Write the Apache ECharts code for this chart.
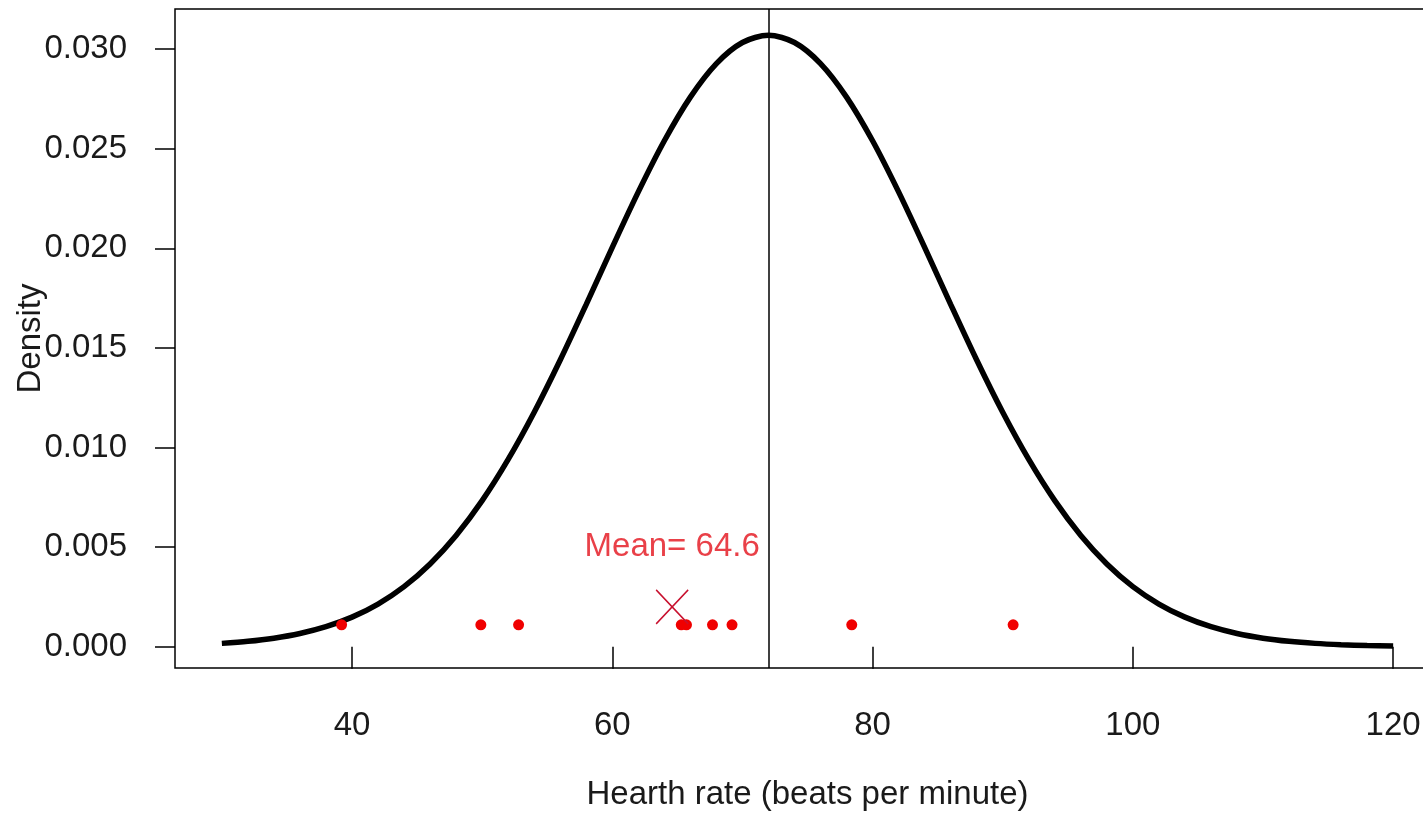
<!DOCTYPE html>
<html>
<head>
<meta charset="utf-8">
<style>html,body{margin:0;padding:0;background:#fff;overflow:hidden}#c{width:1423px;height:834px}</style>
<script src="https://cdn.jsdelivr.net/npm/echarts@6/dist/echarts.min.js"></script>
</head>
<body>
<div id="c"></div>
<script>
// Density curve (x in bpm, y density)
const curveX = [30,32,34,36,38,40,42,44,46,48,50,52,54,56,58,60,62,64,66,68,70,72,74,76,78,80,82,84,86,88,90,92,94,96,98,100,102,104,106,108,110,112,114,116,118,120];
const curveY = [0.000166,0.000270,0.000428,0.000663,0.001004,0.001483,0.002142,0.003018,0.004153,0.005584,0.007330,0.009398,0.011766,0.014389,0.017184,0.020043,0.022828,0.025395,0.027588,0.029269,0.030327,0.030688,0.030327,0.029269,0.027588,0.025395,0.022828,0.020043,0.017184,0.014389,0.011766,0.009398,0.007330,0.005584,0.004153,0.003018,0.002142,0.001483,0.001004,0.000663,0.000428,0.000270,0.000166,0.000100,0.000059,0.000034];
// Observed heart rates (red dots)
const obsX = [39.2,49.9,52.8,65.3,65.7,67.7,69.2,78.4,90.8];
const obsY = [0.0011,0.0011,0.0011,0.0011,0.0011,0.0011,0.0011,0.0011,0.0011];
// Sample mean marker
const meanX = [64.6];
const meanY = [0.002];
const meanLabelY = [0.005];
const meanLabel = 'Mean= 64.6';
// Vertical reference line (distribution mean)
const refLineX = 72;
// Tick labels
const xTicks = [40,60,80,100,120];
const yTicks = [0,0.005,0.010,0.015,0.020,0.025,0.030];
const xTitle = 'Hearth rate (beats per minute)';
const yTitle = 'Density';

const FONT = '"Liberation Sans", Arial, sans-serif';
const FS = 33;
const chart = echarts.init(document.getElementById('c'), null, {renderer:'canvas'});
chart.setOption({
  animation:false,
  backgroundColor:'#ffffff',
  grid:{left:175, top:9, right:-17, bottom:166, show:true, borderColor:'#000', borderWidth:1.5, containLabel:false, outerBoundsMode:'none'},
  xAxis:{
    type:'value', min:26.4, max:123.6,
    splitLine:{show:false},
    axisLine:{show:false},
    axisTick:{show:true, inside:false, length:22, lineStyle:{color:'#000', width:1.5}, customValues:xTicks},
    axisLabel:{show:true, margin:41, fontSize:FS, fontFamily:FONT, color:'#1a1a1a', customValues:xTicks, formatter:v=>String(v)},
    name:xTitle, nameLocation:'middle', nameGap:110, nameMoveOverlap:false,
    nameTextStyle:{fontSize:FS, fontFamily:FONT, color:'#1a1a1a'}
  },
  yAxis:{
    type:'value', min:-0.00107, max:0.03201,
    splitLine:{show:false},
    axisLine:{show:false},
    axisTick:{show:true, inside:false, length:20, lineStyle:{color:'#000', width:1.5}, customValues:yTicks},
    axisLabel:{show:true, margin:48, fontSize:FS, fontFamily:FONT, color:'#1a1a1a', customValues:yTicks, formatter:v=>v.toFixed(3)},
    name:yTitle, nameLocation:'middle', nameRotate:90, nameGap:128, nameMoveOverlap:false,
    nameTextStyle:{fontSize:FS, fontFamily:FONT, color:'#1a1a1a'}
  },
  series:[
    {
      type:'line', data:curveX.map((x,i)=>[x,curveY[i]]),
      showSymbol:false, smooth:0.3, lineStyle:{color:'#000', width:5.5}, z:3,
      markLine:{silent:true, symbol:'none', label:{show:false},
        lineStyle:{color:'#000', width:1.5, type:'solid'}, data:[{xAxis:refLineX}]}
    },
    {
      type:'scatter', data:obsX.map((x,i)=>[x,obsY[i]]),
      symbol:'circle', symbolSize:11, itemStyle:{color:'#f00000', opacity:1}, z:4
    },
    {
      type:'scatter', data:meanX.map((x,i)=>[x,meanY[i]]),
      symbol:'path://M0,0L10,10M10,0L0,10', symbolSize:[32,34],
      itemStyle:{color:'transparent', borderColor:'#c8102e', borderWidth:1.5, opacity:1}, z:4
    },
    {
      type:'scatter', data:meanX.map((x,i)=>[x,meanLabelY[i]]),
      symbolSize:0,
      label:{show:true, position:'inside', formatter:meanLabel, fontSize:FS, fontFamily:FONT, color:'#e3101a'}, z:5
    }
  ]
});
</script>
</body>
</html>
